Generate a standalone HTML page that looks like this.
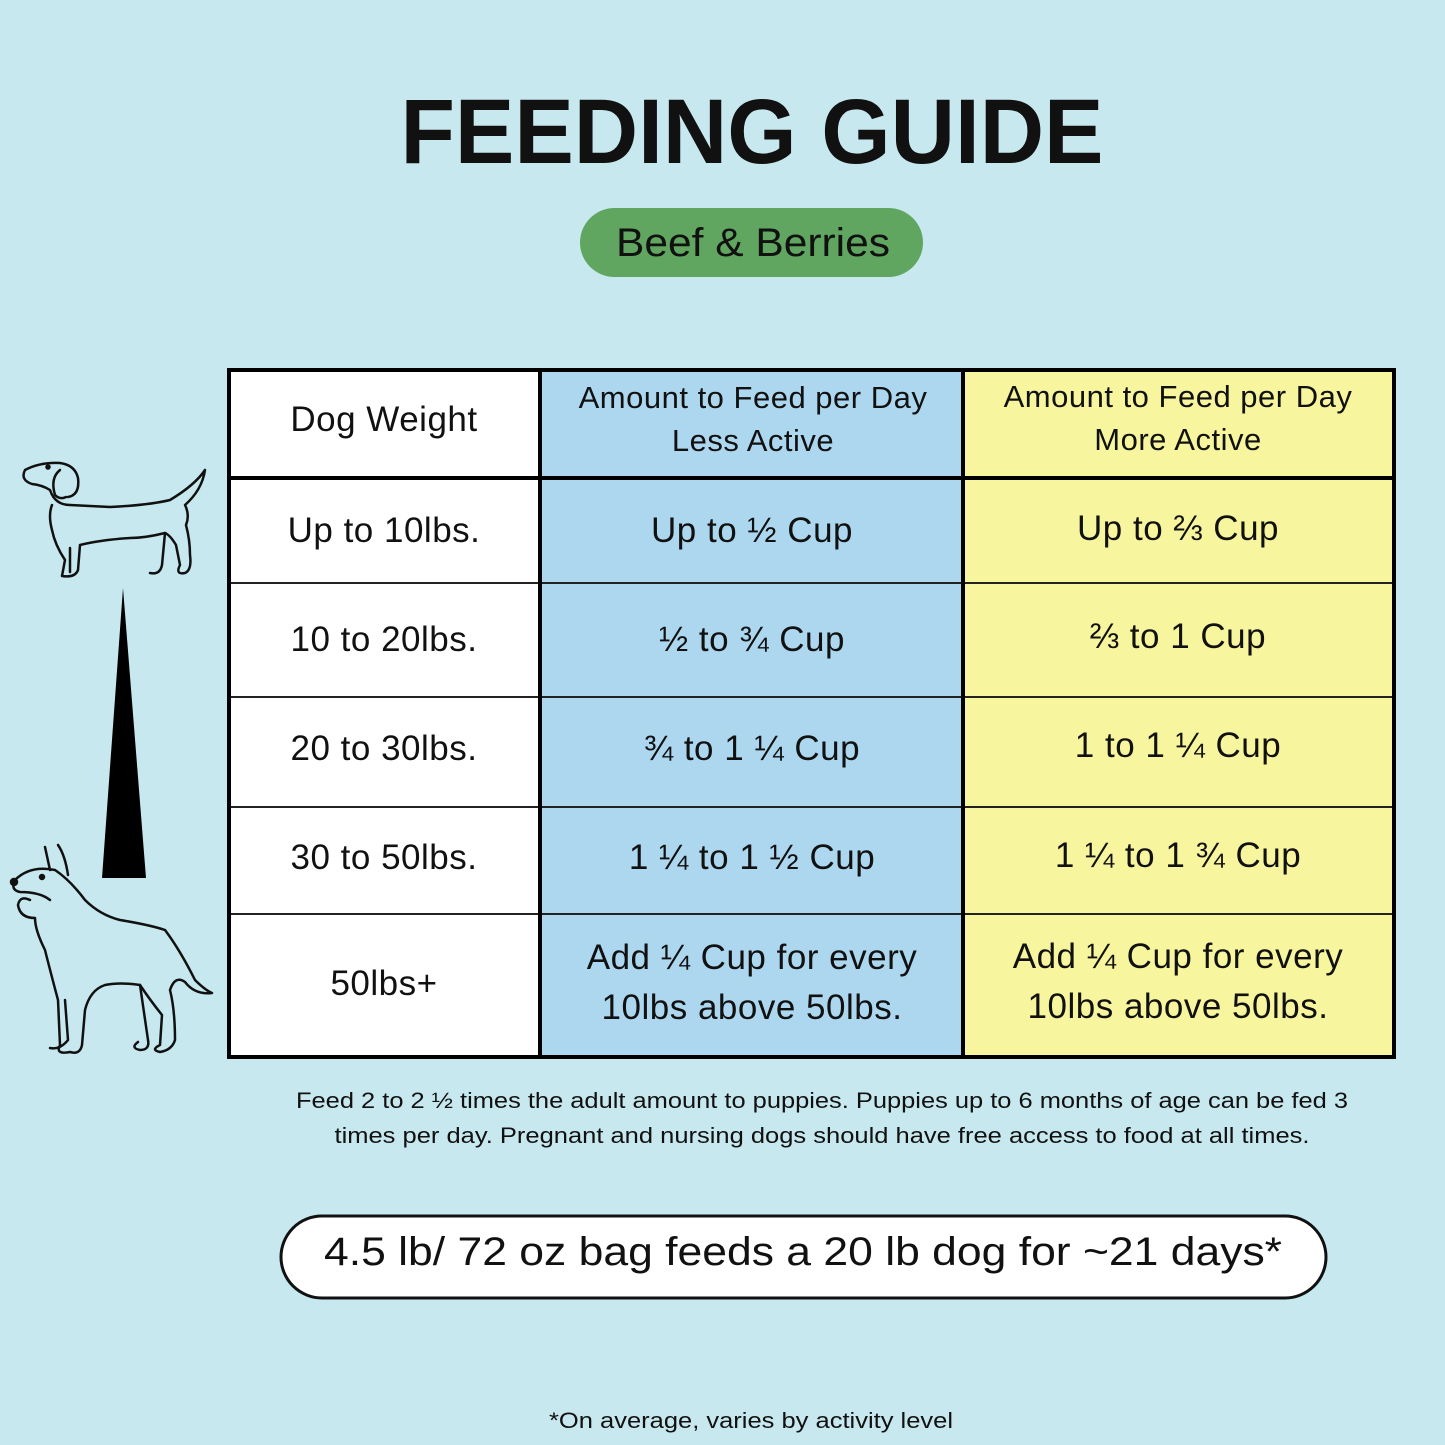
<!DOCTYPE html>
<html><head><meta charset="utf-8"><style>
html,body{margin:0;padding:0;background:#c6e8ee;}
svg{display:block}
text{font-family:"Liberation Sans",sans-serif;fill:#111}
</style></head><body>
<svg width="1445" height="1445" viewBox="0 0 1445 1445">
<rect width="1445" height="1445" fill="#c6e8ee"/>
<text x="752" y="163" font-size="92" font-weight="bold" text-anchor="middle" textLength="703" lengthAdjust="spacingAndGlyphs">FEEDING GUIDE</text>
<rect x="580" y="208" width="343" height="69" rx="34.5" fill="#60a660"/>
<text x="753" y="256" font-size="40" text-anchor="middle" textLength="274" lengthAdjust="spacingAndGlyphs">Beef &amp; Berries</text>

<rect x="228" y="369" width="311" height="689" fill="#fff"/>
<rect x="539" y="369" width="424" height="689" fill="#acd7ef"/>
<rect x="963" y="369" width="432" height="689" fill="#f7f59d"/>
<g stroke="#222" stroke-width="2">
<line x1="228" y1="583" x2="1395" y2="583"/>
<line x1="228" y1="697" x2="1395" y2="697"/>
<line x1="228" y1="807" x2="1395" y2="807"/>
<line x1="228" y1="914" x2="1395" y2="914"/>
</g>
<g stroke="#000" stroke-width="4" fill="none">
<rect x="229" y="370" width="1165" height="687"/>
<line x1="228" y1="478" x2="1395" y2="478"/>
<line x1="540" y1="369" x2="540" y2="1058"/>
<line x1="963" y1="369" x2="963" y2="1058"/>
</g>

<g font-size="35" text-anchor="middle" letter-spacing="0.5">
<text x="384" y="431">Dog Weight</text>
<text x="384" y="542">Up to 10lbs.</text>
<text x="384" y="651">10 to 20lbs.</text>
<text x="384" y="760">20 to 30lbs.</text>
<text x="384" y="869">30 to 50lbs.</text>
<text x="384" y="995">50lbs+</text>
<text x="752" y="542">Up to ½ Cup</text>
<text x="752" y="651">½ to ¾ Cup</text>
<text x="752" y="760">¾ to 1 ¼ Cup</text>
<text x="752" y="869">1 ¼ to 1 ½ Cup</text>
<text x="752" y="969">Add ¼ Cup for every</text>
<text x="752" y="1019">10lbs above 50lbs.</text>
<text x="1178" y="540">Up to ⅔ Cup</text>
<text x="1178" y="648">⅔ to 1 Cup</text>
<text x="1178" y="757">1 to 1 ¼ Cup</text>
<text x="1178" y="867">1 ¼ to 1 ¾ Cup</text>
<text x="1178" y="968">Add ¼ Cup for every</text>
<text x="1178" y="1018">10lbs above 50lbs.</text>
</g>
<g font-size="31" text-anchor="middle" letter-spacing="0.5">
<text x="753" y="408">Amount to Feed per Day</text>
<text x="753" y="451">Less Active</text>
<text x="1178" y="407">Amount to Feed per Day</text>
<text x="1178" y="450">More Active</text>
</g>

<g font-size="22" text-anchor="middle">
<text x="822" y="1108" textLength="1052" lengthAdjust="spacingAndGlyphs">Feed 2 to 2 ½ times the adult amount to puppies. Puppies up to 6 months of age can be fed 3</text>
<text x="822" y="1143" textLength="975" lengthAdjust="spacingAndGlyphs">times per day. Pregnant and nursing dogs should have free access to food at all times.</text>
</g>

<rect x="281" y="1216" width="1045" height="82" rx="41" fill="#fff" stroke="#111" stroke-width="3"/>
<text x="803" y="1265" font-size="40" text-anchor="middle" textLength="958" lengthAdjust="spacingAndGlyphs">4.5 lb/ 72 oz bag feeds a 20 lb dog for ~21 days*</text>

<text x="751" y="1428" font-size="22" text-anchor="middle" textLength="404" lengthAdjust="spacingAndGlyphs">*On average, varies by activity level</text>

<polygon points="123,588 102,878 146,878" fill="#000"/>

<g fill="none" stroke="#111" stroke-width="2.5" stroke-linecap="round" stroke-linejoin="round">
<path d="M25,470 Q40,462 60,463 Q75,465 78,478 Q80,495 68,497 M25,470 Q20,480 32,484 Q42,485 50,490 Q55,505 70,505 L110,507 Q150,505 170,500 Q195,485 205,470 Q202,490 185,505 Q190,515 186,525 Q190,540 190,555 Q192,570 185,573 Q175,575 180,565 L176,545 Q170,535 165,533 Q145,538 130,538 Q100,540 80,545 L78,570 Q75,578 62,576 L65,560 Q55,545 52,530 Q48,515 52,505"/>
<path d="M60,470 Q50,478 55,495 Q60,500 66,497"/>
<path d="M165,533 L162,565 Q160,575 150,573"/>
<path d="M70,548 L70,572"/>
<circle cx="48" cy="467" r="1.5" fill="#111"/>
</g>

<g fill="none" stroke="#111" stroke-width="2.5" stroke-linecap="round" stroke-linejoin="round">
<path d="M45,847 L50,870 M58,845 Q65,855 68,875 M15,880 Q30,865 55,870 Q70,880 85,900 Q100,915 120,920 Q150,925 165,930 Q180,950 195,980 Q205,990 212,993 Q195,995 185,982 Q175,975 170,990 Q175,1010 175,1040 Q172,1050 160,1052 Q150,1050 160,1045 L162,1015 Q150,1000 140,985 Q120,982 105,985 Q90,990 85,1010 L82,1045 Q80,1055 70,1052 Q55,1055 60,1045 L58,1000 Q50,970 45,950 Q35,930 35,918 Q20,918 18,905 Q20,895 30,900 M15,880 Q10,890 20,892 Q40,892 50,900"/>
<path d="M140,985 L148,1040 Q150,1050 140,1050 Q130,1048 138,1042"/>
<path d="M65,1000 L68,1040 Q60,1050 50,1048"/>
<circle cx="14" cy="882" r="3" fill="#111"/>
<circle cx="42" cy="877" r="2" fill="#111"/>
</g>
</svg>
</body></html>
